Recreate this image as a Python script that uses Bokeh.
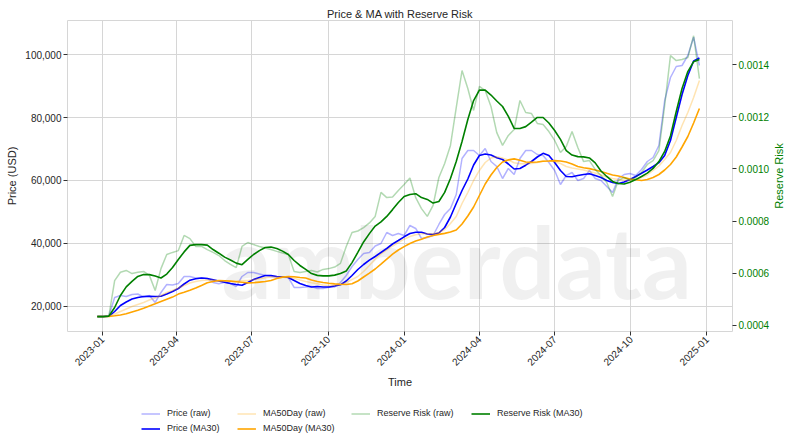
import math
import pandas as pd
from bokeh.plotting import figure
from bokeh.layouts import gridplot
from bokeh.models import (Range1d, LinearAxis, SingleIntervalTicker, NumeralTickFormatter,
                          MonthsTicker, DatetimeTickFormatter, Legend, LegendItem, Label,
                          ColumnDataSource)
from bokeh.embed import file_html
from bokeh.resources import INLINE

# ---------------- data (weekly samples) ----------------
start_date = "2022-12-26"

price_raw = [16825, 16825, 16984, 22857, 23492, 23175, 23810, 23968, 23016, 23492,
             21270, 24444, 26984, 26825, 27302, 29524, 29524, 29048, 29048, 28889,
             27619, 27206, 27714, 27302, 26349, 29524, 30794, 30794, 30317, 29841,
             29524, 29365, 29302, 29206, 26032, 26032, 26190, 26349, 25714, 25714,
             26127, 26190, 27619, 29841, 32698, 34921, 36825, 37143, 39206, 40000,
             43492, 42540, 43175, 42540, 45714, 44762, 41587, 41905, 42540, 46032,
             49206, 51111, 55556, 66984, 69524, 69524, 67937, 70159, 66032, 64444,
             60635, 63810, 61905, 66984, 69524, 69524, 68254, 67937, 65714, 63175,
             58730, 61587, 62540, 60000, 60635, 63175, 60635, 60000, 58095, 56190,
             60635, 61905, 62222, 61587, 63492, 66032, 67302, 71111, 85397, 92698,
             96190, 96508, 99683, 105500, 96508]

price_ma30 = [16825, 16825, 16889, 18413, 20317, 21429, 22381, 22857, 23175, 23270,
              23175, 23238, 23968, 24762, 25714, 27143, 28349, 28794, 29048, 28889,
              28508, 28095, 27714, 27302, 26984, 26730, 27619, 28571, 29206, 29841,
              29841, 29524, 29429, 29206, 28254, 27302, 26667, 26190, 26349, 26190,
              26190, 26508, 26889, 28095, 29841, 31746, 33333, 34698, 35873, 37143,
              38413, 39841, 40952, 42127, 43175, 43587, 43556, 43016, 42857, 43333,
              45079, 48413, 52698, 56825, 60476, 64921, 67937, 68413, 68095, 67206,
              66667, 65238, 63651, 63810, 64857, 66032, 67460, 68635, 67937, 65714,
              63175, 61270, 61175, 61587, 61905, 62127, 61587, 60952, 60000, 59365,
              59048, 59524, 60317, 61270, 62317, 63333, 64444, 65651, 67937, 72698,
              80000, 87302, 93333, 97937, 98889]

ma50_raw = [16825, 16825, 16889, 17619, 18413, 19206, 20000, 20635, 21270, 22063,
            22698, 23492, 24444, 25079, 25873, 26667, 27460, 27937, 28254, 28381,
            28317, 28190, 28063, 28000, 28095, 28254, 28254, 28508, 28825, 29143,
            29333, 29365, 29365, 29302, 28952, 28413, 27937, 27524, 27206, 26825,
            26667, 26667, 26825, 27619, 28571, 29524, 31111, 33016, 35079, 36667,
            37937, 39206, 40317, 41365, 42222, 42794, 43079, 43079, 43079, 43492,
            44444, 46349, 48571, 52698, 56190, 60000, 63175, 65714, 67143, 67524,
            67111, 66508, 65619, 65302, 65302, 65397, 65714, 66190, 66254, 66032,
            65397, 64444, 63968, 63651, 63333, 62857, 62381, 61746, 61111, 60635,
            60317, 60127, 60000, 60317, 60952, 61746, 63175, 64603, 66667, 68889,
            72698, 77460, 81587, 86349, 91746]

ma50_ma30 = [16825, 16825, 16825, 17048, 17302, 17683, 18254, 18794, 19460, 20159,
             20857, 21587, 22286, 22984, 23937, 24540, 25175, 25873, 26667, 27524,
             27937, 28254, 28190, 28063, 27873, 27683, 27492, 27556, 27746, 27937,
             28254, 28889, 29333, 29492, 29460, 29206, 29048, 28413, 27937, 27619,
             27365, 27175, 27048, 26984, 27206, 28095, 29365, 30571, 31905, 33429,
             35016, 36603, 37937, 39016, 40000, 40794, 41333, 42032, 42540, 42889,
             43206, 43651, 44286, 46190, 48730, 51587, 55238, 58889, 61746, 64127,
             65873, 66540, 66857, 66413, 65873, 65810, 65873, 66095, 66190, 66317,
             66190, 65873, 65238, 64444, 64063, 63778, 63333, 62857, 62286, 61746,
             61429, 60921, 60476, 60222, 60000, 60317, 60952, 61905, 63333, 65079,
             67460, 70635, 73968, 78254, 82857]

rr_raw = [0.000434, 0.000434, 0.000436, 0.000572, 0.000604, 0.000611, 0.000599, 0.000604, 0.000607, 0.000592,
          0.000534, 0.000618, 0.000672, 0.000680, 0.000687, 0.000745, 0.000733, 0.000703, 0.000703, 0.000691,
          0.000680, 0.000668, 0.000649, 0.000634, 0.000622, 0.000703, 0.000718, 0.000710, 0.000703, 0.000697,
          0.000691, 0.000684, 0.000678, 0.000672, 0.000607, 0.000603, 0.000607, 0.000611, 0.000605, 0.000615,
          0.000618, 0.000624, 0.000638, 0.000703, 0.000756, 0.000762, 0.000775, 0.000793, 0.000818, 0.000910,
          0.000890, 0.000892, 0.000917, 0.000940, 0.000965, 0.000890, 0.000848, 0.000818, 0.000860, 0.000967,
          0.001021, 0.001090, 0.001235, 0.001377, 0.001308, 0.001224, 0.001316, 0.001300, 0.001239, 0.001139,
          0.001090, 0.001128, 0.001151, 0.001262, 0.001216, 0.001212, 0.001174, 0.001170, 0.001143, 0.001109,
          0.001063, 0.001086, 0.001143, 0.001082, 0.001028, 0.001032, 0.000998, 0.000975, 0.000948, 0.000894,
          0.000956, 0.000967, 0.000956, 0.000967, 0.000986, 0.001017, 0.001032, 0.001070, 0.001243, 0.001434,
          0.001415, 0.001419, 0.001427, 0.001510, 0.001346]

rr_ma30 = [0.000434, 0.000434, 0.000436, 0.000469, 0.000515, 0.000548, 0.000569, 0.000588, 0.000595, 0.000595,
           0.000590, 0.000582, 0.000597, 0.000622, 0.000653, 0.000682, 0.000707, 0.000710, 0.000710, 0.000708,
           0.000691, 0.000677, 0.000662, 0.000651, 0.000639, 0.000633, 0.000653, 0.000672, 0.000687, 0.000699,
           0.000701, 0.000695, 0.000685, 0.000672, 0.000649, 0.000630, 0.000615, 0.000599, 0.000592, 0.000590,
           0.000590, 0.000593, 0.000599, 0.000609, 0.000641, 0.000680, 0.000720, 0.000752, 0.000781, 0.000797,
           0.000818, 0.000844, 0.000871, 0.000894, 0.000902, 0.000905, 0.000890, 0.000883, 0.000869, 0.000875,
           0.000910, 0.000963, 0.001028, 0.001105, 0.001189, 0.001262, 0.001302, 0.001302, 0.001283, 0.001260,
           0.001239, 0.001201, 0.001155, 0.001155, 0.001162, 0.001179, 0.001197, 0.001197, 0.001176, 0.001147,
           0.001113, 0.001070, 0.001053, 0.001047, 0.001046, 0.001042, 0.001023, 0.000992, 0.000971, 0.000952,
           0.000944, 0.000942, 0.000949, 0.000959, 0.000971, 0.000984, 0.001002, 0.001028, 0.001067, 0.001126,
           0.001220, 0.001308, 0.001373, 0.001411, 0.001419]

price_ticks_step = 20000
rr_ticks_step = 0.0002

dates = pd.date_range(start_date, periods=max(len(price_raw), len(rr_raw), 105), freq="7D")


def src(vals):
    return ColumnDataSource(dict(date=list(dates[:len(vals)]), v=vals))


FONT = "Liberation Sans"
TXT = "#262626"
GRID = "#d6d6d6"
W_MAIN = 772
W_RIGHT = 12
H_MAIN = 394
H_LEG = 44

p = figure(width=W_MAIN, height=H_MAIN, x_axis_type="datetime",
           x_range=Range1d(pd.Timestamp("2022-11-20"), pd.Timestamp("2025-02-01")),
           y_range=Range1d(12063, 110794),
           output_backend="svg", toolbar_location=None,
           min_border_left=67, min_border_right=37, min_border_top=20, min_border_bottom=63,
           title="Price & MA with Reserve Risk")
p.extra_y_ranges = {"rr": Range1d(0.000377, 0.0015686)}

p.background_fill_color = "white"
p.border_fill_color = "white"
p.outline_line_color = GRID
p.outline_line_width = 1

p.title.text_font = FONT
p.title.text_font_size = "11px"
p.title.text_font_style = "normal"
p.title.text_color = TXT
p.title.align = "center"
p.title.standoff = 1

# watermark
wm = Label(x=154, y=71, x_units="screen", y_units="screen", text="amberdata",
           text_font="Lato", text_font_size="99px", text_font_style="bold",
           text_color="black", text_alpha=0.06, text_baseline="alphabetic", level="underlay")
p.add_layout(wm)

# x axis
xt = MonthsTicker(months=[0, 3, 6, 9])
p.xaxis.ticker = xt
p.xgrid.ticker = xt
p.xaxis.formatter = DatetimeTickFormatter(months="%Y-%m", days="%Y-%m", years="%Y-%m")
p.xaxis.major_label_orientation = math.pi / 4
p.xaxis.axis_label = "Time"

# left axis
yt = SingleIntervalTicker(interval=price_ticks_step, num_minor_ticks=0)
p.yaxis.ticker = yt
p.ygrid.ticker = yt
p.yaxis.formatter = NumeralTickFormatter(format="0,0")
p.yaxis.axis_label = "Price (USD)"

# right axis (its title is drawn in the narrow strip to the right)
ax_r = LinearAxis(y_range_name="rr",
                  ticker=SingleIntervalTicker(interval=rr_ticks_step, num_minor_ticks=0),
                  formatter=NumeralTickFormatter(format="0.0000"))
p.add_layout(ax_r, "right")

for ax in [p.xaxis[0], p.yaxis[0], ax_r]:
    ax.axis_line_color = None
    ax.major_tick_out = 4
    ax.major_tick_in = 0
    ax.major_tick_line_color = "#333333"
    ax.minor_tick_line_color = None
    ax.major_label_text_font = FONT
    ax.major_label_text_font_size = "10px"
    ax.major_label_text_color = TXT
    ax.axis_label_text_font = FONT
    ax.axis_label_text_font_size = "11px"
    ax.axis_label_text_font_style = "normal"
    ax.axis_label_text_color = TXT
    ax.major_label_standoff = 2
    ax.axis_label_standoff = 4

ax_r.major_label_text_color = "green"

p.xgrid.grid_line_color = GRID
p.ygrid.grid_line_color = GRID
p.xgrid.grid_line_width = 1
p.ygrid.grid_line_width = 1

# lines
STY = [dict(line_color="blue", line_alpha=0.3, line_width=1.5),
       dict(line_color="blue", line_width=1.6),
       dict(line_color="orange", line_alpha=0.3, line_width=1.5),
       dict(line_color="orange", line_width=1.6),
       dict(line_color="green", line_alpha=0.3, line_width=1.5),
       dict(line_color="green", line_width=1.6)]

p.line("date", "v", source=src(price_raw), **STY[0])
p.line("date", "v", source=src(price_ma30), **STY[1])
p.line("date", "v", source=src(ma50_raw), **STY[2])
p.line("date", "v", source=src(ma50_ma30), **STY[3])
p.line("date", "v", source=src(rr_raw), y_range_name="rr", **STY[4])
p.line("date", "v", source=src(rr_ma30), y_range_name="rr", **STY[5])


def blank(width, height):
    f = figure(width=width, height=height, x_range=Range1d(0, 1), y_range=Range1d(0, 1),
               x_axis_location=None, y_axis_location=None, output_backend="svg",
               toolbar_location=None, min_border=0, min_border_left=0, min_border_right=0,
               min_border_top=0, min_border_bottom=0)
    f.outline_line_color = None
    f.background_fill_color = "white"
    f.border_fill_color = "white"
    f.grid.visible = False
    return f


# ---------------- right-axis title strip ----------------
p_r = blank(W_RIGHT, H_MAIN)
p_r.add_layout(Label(x=0.5, y=0.5, text="Reserve Risk", angle=math.pi / 2,
                     text_align="center", text_baseline="middle", text_font=FONT,
                     text_font_size="11px", text_color="green"))

# ---------------- legend strip below the chart ----------------
p2 = blank(W_MAIN, H_LEG)
labels = ["Price (raw)", "Price (MA30)", "MA50Day (raw)", "MA50Day (MA30)",
          "Reserve Risk (raw)", "Reserve Risk (MA30)"]
# swatch renderers for the legend keys (kept outside the visible range)
keys = [p2.line(x=[-2, -1], y=[-2, -1], **s) for s in STY]


def make_legend(idx, loc):
    items = [LegendItem(label=labels[i], renderers=[keys[i]]) for i in idx]
    lg = Legend(items=items, location=loc, orientation="vertical", padding=0, margin=0, spacing=0,
                glyph_width=19, glyph_height=15, label_height=15, label_standoff=7,
                label_text_font=FONT, label_text_font_size="9px", label_text_color=TXT,
                border_line_alpha=0, background_fill_alpha=0)
    p2.add_layout(lg)


make_legend([0, 1], (74, 2.5))
make_legend([2, 3], (170, 2.5))
make_legend([4], (284, 17.5))
make_legend([5], (404, 17.5))

grid = gridplot([[p, p_r], [p2, None]], toolbar_location=None)
open("out.html", "w").write(file_html(grid, INLINE))
